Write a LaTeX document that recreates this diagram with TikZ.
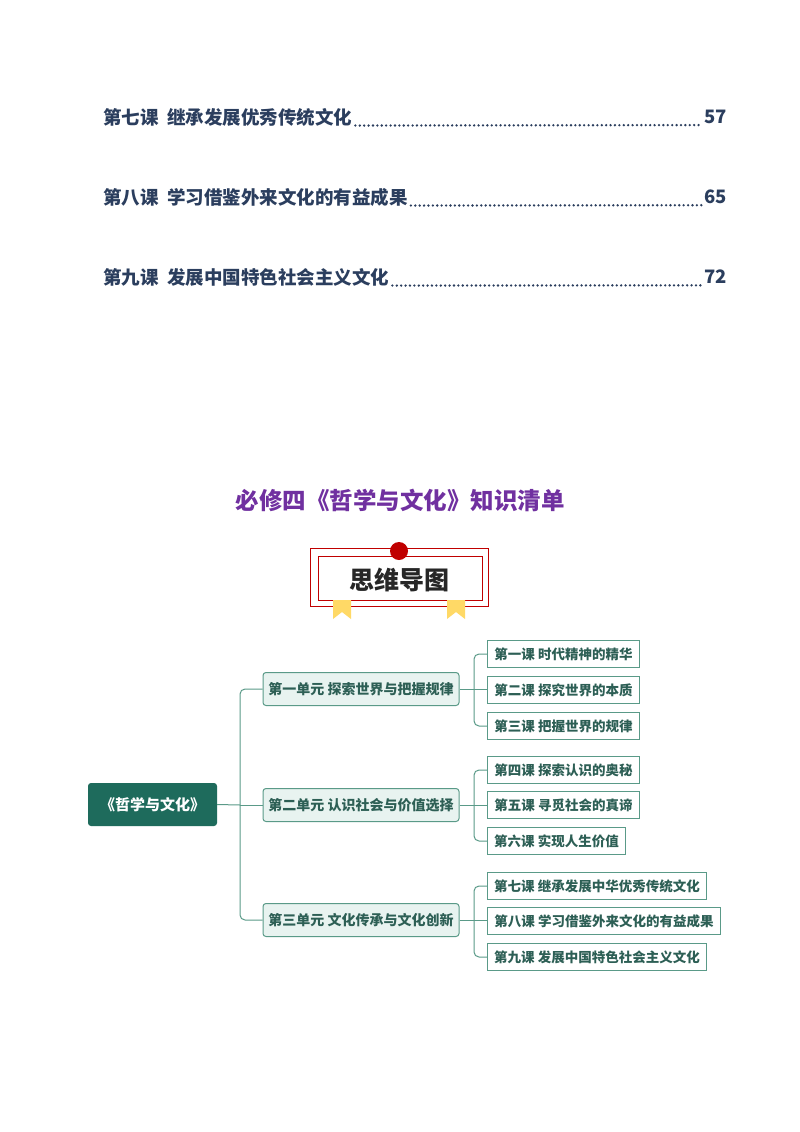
\documentclass[tikz,border=0pt]{standalone}
\usepackage{fontspec}
\setmainfont{Noto Sans CJK SC}
\definecolor{navy}{HTML}{2B3E5E}
\definecolor{purp}{HTML}{7030A0}
\definecolor{dgreen}{HTML}{1E6B5C}
\definecolor{lgreen}{HTML}{E8F3F0}
\definecolor{bgreen}{HTML}{5A9A88}
\definecolor{tgreen}{HTML}{2D5F55}
\definecolor{hred}{HTML}{C00000}
\definecolor{ribbon}{HTML}{FFD966}
\begin{document}
\begin{tikzpicture}[x=1pt,y=-1pt,
 toc/.style={anchor=west,text=navy,font=\fontsize{18.5}{19}\selectfont\bfseries,inner sep=0},
 unitbox/.style={draw=bgreen,fill=lgreen,rounded corners=3,line width=1pt,minimum width=196,minimum height=33,text=tgreen,font=\fontsize{14}{14}\selectfont\bfseries},
 lesson/.style={draw=bgreen,fill=white,line width=1pt,minimum height=27,anchor=west,text=tgreen,font=\fontsize{13.5}{14}\selectfont\bfseries,inner xsep=5},
 conn/.style={draw=bgreen,line width=1pt,rounded corners=5}]
\useasboundingbox (0,0) rectangle (800,1132);
\fill[white] (0,0) rectangle (800,1132);
% TOC
\foreach \t/\n/\yy in {第七课\ \ 继承发展优秀传统文化/57/117,第八课\ \ 学习借鉴外来文化的有益成果/65/197,第九课\ \ 发展中国特色社会主义文化/72/277}{
 \node[toc] (t\n) at (103,\yy) {\t};
 \node[toc,anchor=east] (p\n) at (727,\yy) {\n};
 \draw[navy,line width=2.6pt,dash pattern=on 0pt off 4.4pt,line cap=round] ([xshift=3,yshift=-1.5]t\n.base east) -- ([xshift=-2,yshift=-1.5]p\n.base west);
}
\node[text=purp,font=\fontsize{23.5}{24}\selectfont\bfseries] (title) at (400,500) {必修四《哲学与文化》知识清单};
% header
\draw[hred,line width=1pt] (310,548) rectangle (488,606);
\draw[hred,line width=0.8pt] (318,556) rectangle (482,600);
\fill[ribbon] (333,600) -- (351,600) -- (351,619) -- (342,612) -- (333,619) -- cycle;
\fill[ribbon] (447,600) -- (465,600) -- (465,619) -- (456,612) -- (447,619) -- cycle;
\fill[hred] (399,551) circle (9);
\node[font=\fontsize{25}{25}\selectfont\bfseries,text=black!85] (hdr) at (399,580) {思维导图};
% root
\node[fill=dgreen,rounded corners=3,minimum width=129,minimum height=43,text=white,font=\fontsize{15}{15}\selectfont\bfseries] (root) at (152.5,804.5) {《哲学与文化》};
\node[unitbox] (u1) at (361,689) {第一单元 探索世界与把握规律};
\node[unitbox] (u2) at (361,805) {第二单元 认识社会与价值选择};
\node[unitbox] (u3) at (361,920) {第三单元 文化传承与文化创新};
\coordinate (tr) at (240,805);
\draw[conn] (root.east) -- (tr);
\draw[conn] (u1.west) -| (tr) |- (u3.west);
\draw[conn] (tr) -- (u2.west);
\foreach \name/\yy/\txt/\w in {l1/654/第一课 时代精神的精华/152,l2/690/第二课 探究世界的本质/152,l3/726/第三课 把握世界的规律/152,
 l4/770/第四课 探索认识的奥秘/152,l5/805/第五课 寻觅社会的真谛/152,l6/841/第六课 实现人生价值/138,
 l7/886/第七课 继承发展中华优秀传统文化/219,l8/921/第八课 学习借鉴外来文化的有益成果/233,l9/957/第九课 发展中国特色社会主义文化/219}{
 \node[lesson,minimum width=\w] (\name) at (487,\yy) {\txt};
}
\foreach \u/\a/\b/\c in {u1/l1/l2/l3,u2/l4/l5/l6,u3/l7/l8/l9}{
 \coordinate (j\u) at (474,0 |- \u.east);
 \draw[conn] (\u.east) -- (j\u);
 \draw[conn] (\a.west) -| (j\u) |- (\c.west);
 \draw[conn] (j\u) -- (j\u -| \b.west);
}
\end{tikzpicture}
\end{document}
